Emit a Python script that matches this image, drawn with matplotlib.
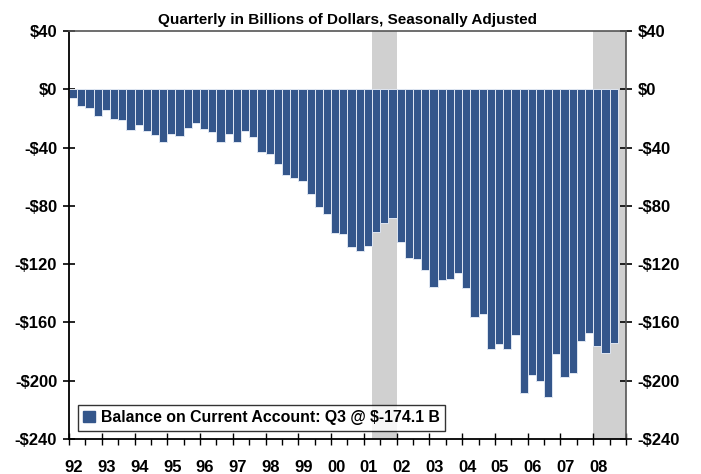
import numpy as np
import matplotlib
matplotlib.use("Agg")
import matplotlib.pyplot as plt
from matplotlib.patches import Patch

plt.rcParams["font.family"] = ["Liberation Sans", "DejaVu Sans"]
plt.rcParams["font.weight"] = "bold"

# quarterly balance on current account, 1992Q1 .. 2008Q3 (billions $)
balance = [
    -6.0, -11.4, -13.0, -18.5,
    -14.4, -20.6, -21.0, -28.1,
    -24.5, -28.6, -31.6, -36.1,
    -30.9, -32.0, -26.5, -23.1,
    -27.0, -29.5, -36.1, -30.9,
    -36.1, -28.4, -32.5, -43.2,
    -44.2, -51.0, -58.6, -60.6,
    -63.1, -71.8, -80.5, -85.6,
    -98.8, -99.5, -108.0, -111.0,
    -107.5, -97.7, -91.7, -88.1,
    -104.6, -115.8, -116.5, -124.0,
    -135.9, -130.9, -130.4, -126.3,
    -136.4, -156.0, -154.4, -178.4,
    -174.6, -178.0, -168.8, -208.4,
    -196.3, -200.2, -211.4, -181.4,
    -197.4, -194.5, -173.0, -167.2,
    -176.2, -181.2, -174.1,
]
start_year = 1992
recessions = [(2001.25, 2002.0), (2008.0, 2009.0)]
year_labels = ["92", "93", "94", "95", "96", "97", "98", "99", "00",
               "01", "02", "03", "04", "05", "06", "07", "08"]
y_ticks = [40, 0, -40, -80, -120, -160, -200, -240]
legend_text = "Balance on Current Account: Q3 @ $-174.1 B"

bar_color = "#34568b"
x = start_year + np.arange(len(balance)) * 0.25 + 0.125

fig = plt.figure(figsize=(7.01, 4.74), dpi=100)
ax = fig.add_axes([0.0984, 0.0738, 0.7946, 0.8608])

for a, b in recessions:
    ax.axvspan(a, b, color="#d0d0d0", lw=0, zorder=0)

ax.bar(x, balance, width=0.25, color=bar_color, edgecolor="#dfe6f2",
       linewidth=0.7, zorder=2)

ax.set_xlim(1992, 2009)
ax.set_ylim(-240, 40)

ax.set_yticks(y_ticks)
ax.set_yticklabels([f"${v}" if v >= 0 else f"-${-v}" for v in y_ticks])
ax.tick_params(axis="y", which="both", direction="inout", length=9, width=1.2,
               labelsize=12, left=True, right=True, labelleft=True,
               labelright=True, pad=4)

ax.set_xticks(np.arange(1992, 2010))
ax.set_xticks(np.arange(1992.5, 2009, 1.0), minor=True)
ax.tick_params(axis="x", which="major", direction="inout", length=8, width=1)
ax.tick_params(axis="x", which="minor", direction="out", length=4, width=1)
ax.set_xticklabels([])
for i, lab in enumerate(year_labels):
    ax.text(start_year + i + 0.15, -0.052, lab, transform=ax.get_xaxis_transform(),
            ha="center", va="top", fontsize=12, fontweight="bold")

for side in ["left", "bottom"]:
    ax.spines[side].set_color("black")
    ax.spines[side].set_linewidth(1.3)
for side in ["top", "right"]:
    ax.spines[side].set_color("#555555")
    ax.spines[side].set_linewidth(1.2)

ax.set_title("Quarterly in Billions of Dollars, Seasonally Adjusted",
             fontsize=11, fontweight="bold", pad=5)

leg = ax.legend(handles=[Patch(facecolor=bar_color, edgecolor=bar_color)],
                labels=[legend_text], loc="lower left",
                bbox_to_anchor=(0.016, 0.02), borderaxespad=0, fontsize=11.4,
                frameon=True, fancybox=False, handlelength=0.7,
                handleheight=0.7, handletextpad=0.4, borderpad=0.35)
leg.get_frame().set_edgecolor("black")
leg.get_frame().set_linewidth(1.0)

fig.savefig("out.png", dpi=100)
